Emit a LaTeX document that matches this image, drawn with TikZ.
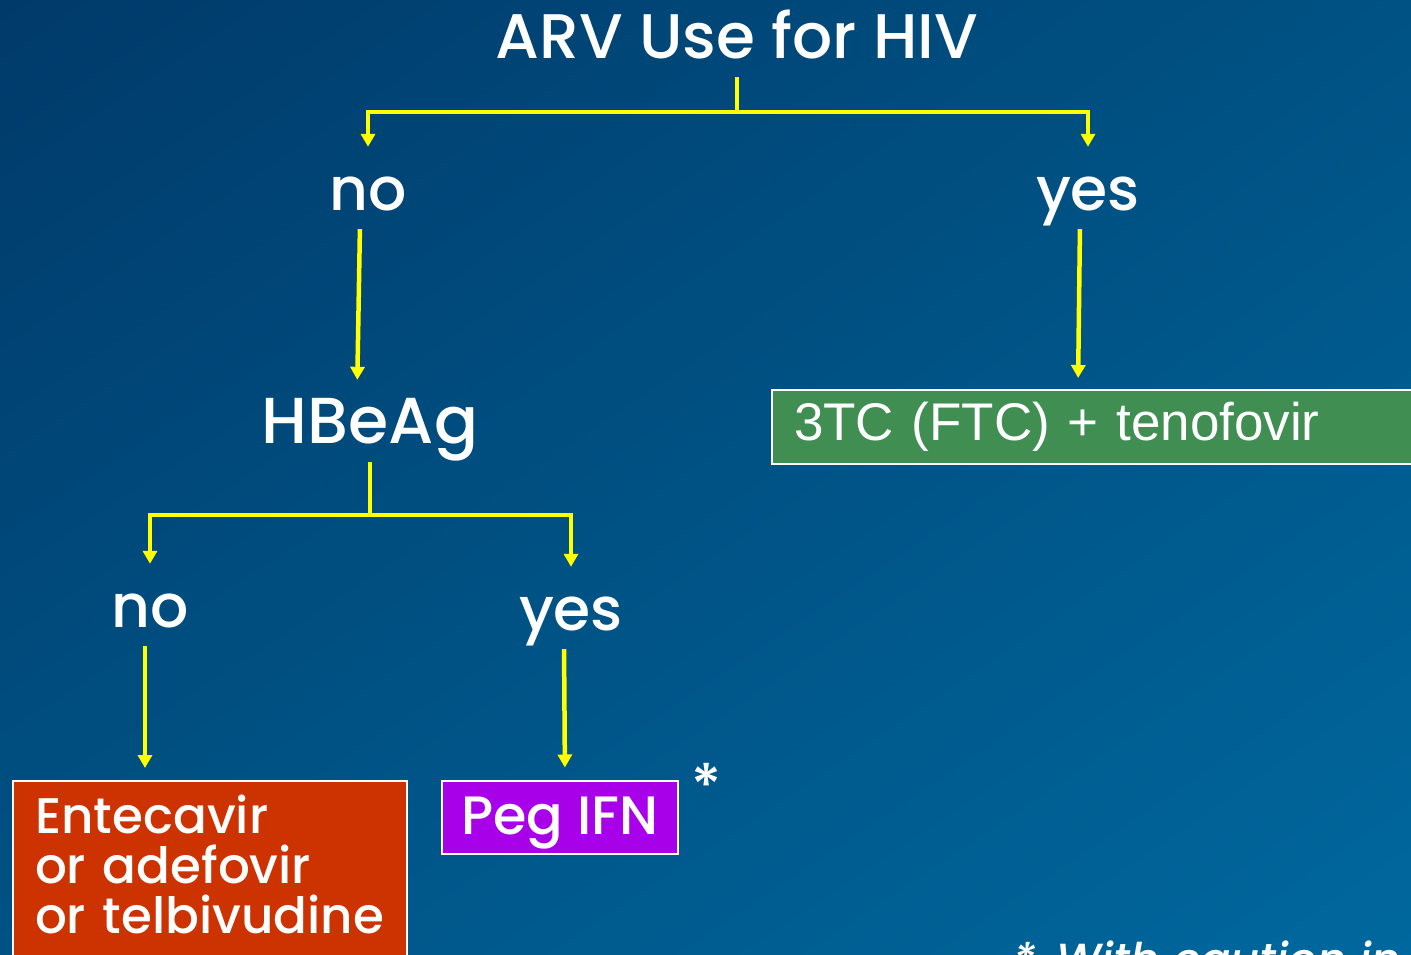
\documentclass[tikz,border=0pt]{standalone}
\usepackage{fontspec}
\setmainfont{Poppins Medium}
\newfontfamily\arialfont{Liberation Sans}
\usetikzlibrary{positioning, arrows.meta, calc, shadings}

\definecolor{bgdark}{RGB}{0,58,106}
\definecolor{bgmid}{RGB}{0,82,132}
\definecolor{bglight}{RGB}{0,104,158}
\definecolor{arrowyellow}{RGB}{255,255,0}
\definecolor{boxgreen}{RGB}{64,142,82}
\definecolor{boxorange}{RGB}{204,51,0}
\definecolor{boxpurple}{RGB}{168,0,232}

\begin{document}
\begin{tikzpicture}[x=1pt, y=-1pt,
    answer/.style={text=white, inner sep=0pt, anchor=base, text height=45pt, text depth=14pt, font=\fontsize{60}{60}\selectfont},
    conn/.style={arrowyellow, line width=4.5pt, shorten <=5pt, shorten >=18pt, -{Triangle[length=13pt, width=14pt]}},
    drugbox/.style={draw=white, line width=2pt, text=white, inner sep=0pt}]
    % background
    \useasboundingbox (0,0) rectangle (1411,954);
    \shade[upper left=bgdark, upper right=bgmid, lower left=bgmid, lower right=bglight] (0,0) rectangle (1411,954);

    % decision labels
    \node[answer, font=\fontsize{63}{63}\selectfont] (title) at (737,58) {ARV Use for HIV};
    \node[answer] (no1) at (368,210) {no};
    \node[answer] (yes1) at (1088,210) {yes};
    \node[answer, font=\fontsize{65}{65}\selectfont] (hbeag) at (370,443) {HBeAg};
    \node[answer] (no2) at (150,627) {no};
    \node[answer] (yes2) at (571,630) {yes};

    % treatments
    \node[drugbox, fill=boxgreen, anchor=north west, minimum width=680pt, minimum height=74pt, text width=636pt, inner xsep=22pt, align=left, font=\arialfont\fontsize{53}{53}\selectfont] (tdf) at (771,389) {3TC (FTC) + tenofovir};
    \node[drugbox, fill=boxorange, anchor=north west, minimum width=394pt, text width=350pt, inner xsep=22pt, inner ysep=14pt, align=left, font=\fontsize{50}{50}\selectfont] (etv) at (12,780) {Entecavir\\or adefovir\\\mbox{or telbivudine}\\\mbox{}};
    \node[drugbox, fill=boxpurple, minimum width=236pt, minimum height=73pt, text height=43pt, text depth=9pt, font=\fontsize{54}{54}\selectfont] (peg) at (560,817) {Peg IFN};
    \node[text=white, inner sep=0pt, font=\fontsize{60}{60}\selectfont] (star) at (707,785) {*};

    % footnote
    \node[text=white, inner sep=0pt, anchor=base west, font=\itshape\fontsize{45}{45}\selectfont] (note) at (1013,975) {*\ \,With caution in};

    % connectors
    \draw[conn] (title.south) -- ++(0,40) -| (no1.north);
    \draw[conn] (title.south) -- ++(0,40) -| (yes1.north);
    \draw[conn] ([xshift=-8pt]no1.south) -- ([xshift=-13pt]hbeag.north);
    \draw[conn, shorten >=11pt] ([xshift=-8pt]yes1.south) -- ([xshift=-10pt]yes1.south |- tdf.north);
    \draw[conn] (hbeag.south) -- ++(0,58) -| (no2.north);
    \draw[conn] (hbeag.south) -- ++(0,58) -| (yes2.north);
    \draw[conn, shorten >=12pt] ([xshift=-5pt]no2.south) -- ([xshift=-5pt]no2.south |- etv.north);
    \draw[conn, shorten >=12pt] ([xshift=-7pt]yes2.south) -- ([xshift=-6pt]yes2.south |- peg.north);
\end{tikzpicture}
\end{document}
